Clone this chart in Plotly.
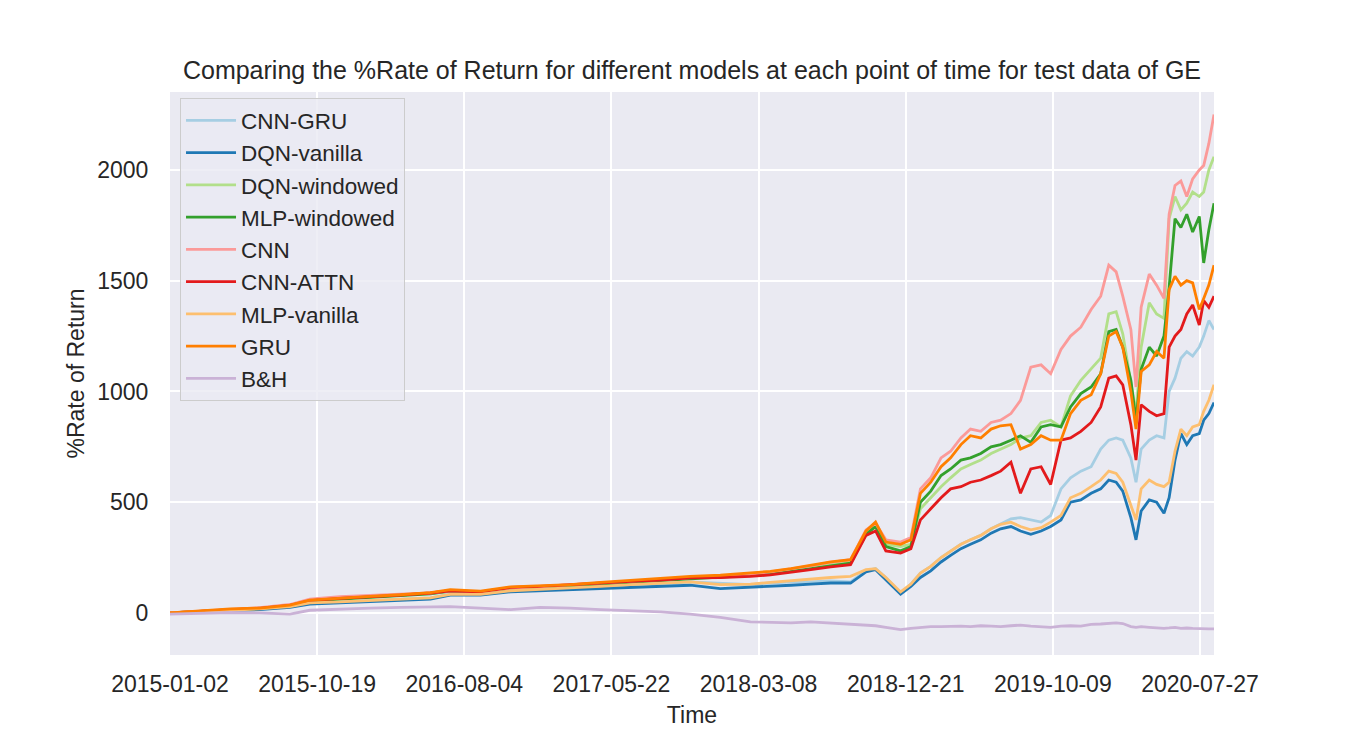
import plotly.graph_objects as go

# trading-day index of each sampled point (test period of GE)
day_idx = [0, 41, 82, 122, 163, 190, 231, 272, 313, 354, 381, 422, 463, 503, 544,
           585, 626, 667, 707, 748, 789, 816, 844, 871, 898, 925,
           946, 959, 973, 993, 1007, 1020, 1034, 1048, 1061, 1075,
           1088, 1102, 1116, 1129, 1143, 1156, 1170, 1184, 1197, 1211,
           1224, 1238, 1252, 1265, 1276, 1286, 1295, 1306, 1313, 1320,
           1331, 1341, 1351, 1358, 1366, 1374, 1382, 1390, 1399, 1405,
           1412, 1419]

tick_idx = [0, 200, 400, 600, 800, 1000, 1200, 1400]
tick_dates = ["2015-01-02", "2015-10-19", "2016-08-04", "2017-05-22",
              "2018-03-08", "2018-12-21", "2019-10-09", "2020-07-27"]

cnn_gru = [0, 5, 15, 18, 28, 45, 50, 55, 60, 68, 85, 85, 100, 108, 112,
           118, 125, 130, 140, 135, 128, 135, 140, 140, 145, 140,
           190, 200, 160, 90, 130, 180, 210, 250, 280, 310,
           330, 350, 380, 400, 425, 430, 420, 410, 440, 560,
           610, 640, 660, 740, 780, 790, 780, 700, 590, 740,
           780, 800, 790, 1000, 1060, 1150, 1180, 1160, 1200, 1250,
           1320, 1280]

dqn_vanilla = [0, 5, 12, 15, 25, 40, 45, 50, 55, 62, 80, 80, 95, 100, 105,
               110, 115, 120, 125, 110, 115, 120, 125, 130, 135, 135,
               185, 195, 150, 85, 120, 160, 190, 230, 260, 290,
               310, 330, 360, 380, 390, 370, 355, 370, 390, 420,
               500, 510, 540, 560, 600, 590, 550, 430, 330, 460,
               510, 500, 450, 520, 690, 810, 760, 800, 810, 870,
               900, 950]

dqn_windowed = [0, 7, 16, 21, 33, 55, 64, 72, 79, 88, 100, 94, 112, 116, 124,
                133, 141, 149, 158, 163, 172, 180, 192, 205, 220, 232,
                360, 395, 310, 300, 310, 470, 520, 570, 610, 650,
                670, 690, 720, 740, 760, 790, 800, 860, 870, 840,
                980, 1050, 1100, 1150, 1350, 1360, 1260, 1050, 900, 1200,
                1400, 1350, 1330, 1780, 1880, 1820, 1850, 1900, 1880, 1900,
                2000, 2060]

mlp_windowed = [0, 7, 16, 20, 32, 52, 62, 70, 76, 86, 98, 92, 110, 114, 122,
                130, 138, 145, 155, 160, 168, 175, 188, 200, 215, 225,
                355, 390, 300, 280, 300, 500, 550, 620, 650, 690,
                700, 720, 750, 760, 780, 800, 770, 840, 850, 840,
                930, 990, 1020, 1080, 1270, 1280, 1200, 1050, 870, 1100,
                1200, 1160, 1250, 1470, 1780, 1740, 1800, 1720, 1790, 1580,
                1730, 1850]

cnn = [0, 8, 18, 24, 38, 62, 74, 80, 86, 90, 100, 95, 112, 118, 128,
       135, 142, 150, 160, 168, 175, 185, 198, 212, 228, 240,
       375, 405, 330, 320, 340, 560, 610, 700, 730, 790,
       830, 820, 860, 870, 900, 960, 1110, 1120, 1080, 1190,
       1250, 1290, 1370, 1430, 1570, 1540, 1430, 1280, 1020, 1380,
       1530, 1480, 1420, 1800, 1930, 1950, 1880, 1960, 2000, 2020,
       2120, 2250]

cnn_attn = [0, 7, 17, 21, 34, 56, 66, 72, 80, 90, 100, 95, 115, 120, 128,
            134, 142, 148, 158, 160, 165, 172, 182, 195, 208, 218,
            350, 370, 280, 270, 290, 420, 470, 520, 560, 570,
            590, 600, 620, 640, 680, 540, 650, 660, 580, 780,
            790, 820, 860, 930, 1060, 1070, 1030, 850, 690, 940,
            910, 890, 900, 1200, 1250, 1280, 1350, 1390, 1300, 1410,
            1380, 1430]

mlp_vanilla = [0, 6, 14, 18, 28, 45, 50, 55, 60, 68, 84, 84, 100, 106, 112,
               120, 128, 135, 140, 128, 130, 138, 145, 155, 160, 165,
               195, 200, 160, 95, 130, 180, 210, 250, 280, 310,
               330, 350, 380, 400, 410, 390, 375, 385, 410, 440,
               520, 540, 570, 600, 640, 630, 590, 480, 420, 560,
               600, 580, 570, 590, 730, 830, 800, 840, 850, 910,
               960, 1030]

gru = [0, 8, 18, 22, 35, 58, 68, 75, 82, 92, 105, 98, 118, 122, 128,
       138, 148, 155, 165, 170, 180, 188, 200, 215, 230, 240,
       370, 410, 320, 310, 330, 540, 590, 660, 700, 760,
       800, 790, 830, 845, 850, 740, 760, 800, 780, 780,
       900, 960, 985, 1080, 1250, 1270, 1200, 1000, 830, 1090,
       1120, 1180, 1150, 1460, 1520, 1480, 1500, 1490, 1370, 1420,
       1480, 1570]

buy_hold = [-5, -3, 2, 0, -5, 12, 18, 22, 25, 28, 28, 22, 15, 25, 22,
            15, 10, 5, -5, -20, -40, -42, -45, -40, -45, -50,
            -55, -58, -65, -75, -70, -65, -62, -62, -60, -60,
            -62, -58, -60, -62, -58, -55, -60, -62, -65, -60,
            -58, -60, -52, -50, -48, -45, -48, -62, -65, -62,
            -65, -68, -70, -68, -65, -70, -68, -70, -72, -70,
            -72, -72]

series = [
    ("CNN-GRU", cnn_gru, "#a6cee3"),
    ("DQN-vanilla", dqn_vanilla, "#1f78b4"),
    ("DQN-windowed", dqn_windowed, "#b2df8a"),
    ("MLP-windowed", mlp_windowed, "#33a02c"),
    ("CNN", cnn, "#fb9a99"),
    ("CNN-ATTN", cnn_attn, "#e31a1c"),
    ("MLP-vanilla", mlp_vanilla, "#fdbf6f"),
    ("GRU", gru, "#ff7f00"),
    ("B&H", buy_hold, "#cab2d6"),
]

font = "Liberation Sans, Arial, sans-serif"
txt = "#262626"

fig = go.Figure()
for name, vals, color in series:
    fig.add_trace(go.Scatter(
        x=day_idx,
        y=vals,
        mode="lines",
        name=name,
        line=dict(color=color, width=2.8),
    ))

# page body has an 8px margin, so offsets are reduced by 8
fig.update_layout(
    width=1350,
    height=750,
    paper_bgcolor="white",
    plot_bgcolor="#eaeaf2",
    font=dict(family=font, size=23, color=txt),
    margin=dict(l=162, r=144, t=84, b=103),
    title=dict(
        text="Comparing the %Rate of Return for different models at each point of time for test data of GE",
        x=0.5, xref="paper", xanchor="center",
        y=0.917, yanchor="middle",
        font=dict(size=25, color=txt),
    ),
    legend=dict(
        x=0.0096, y=0.989, xanchor="left", yanchor="top",
        bgcolor="rgba(234,234,242,0.8)",
        bordercolor="#cccccc",
        borderwidth=1,
        itemwidth=50,
        font=dict(size=22.5, color=txt),
    ),
    showlegend=True,
)

fig.update_xaxes(
    range=[0, 1419],
    tickvals=tick_idx,
    ticktext=tick_dates,
    showgrid=True,
    gridcolor="white",
    gridwidth=1.6,
    zeroline=False,
    showline=False,
    ticks="outside",
    ticklen=8,
    tickcolor="rgba(0,0,0,0)",
    title=dict(text="Time", standoff=11, font=dict(size=23, color=txt)),
)

fig.update_yaxes(
    range=[-190, 2352],
    tickvals=[0, 500, 1000, 1500, 2000],
    showgrid=True,
    gridcolor="white",
    gridwidth=1.6,
    zeroline=False,
    showline=False,
    ticks="outside",
    ticklen=16,
    tickcolor="rgba(0,0,0,0)",
    title=dict(text="%Rate of Return", standoff=6, font=dict(size=23, color=txt)),
)

fig.write_html("out.html")
